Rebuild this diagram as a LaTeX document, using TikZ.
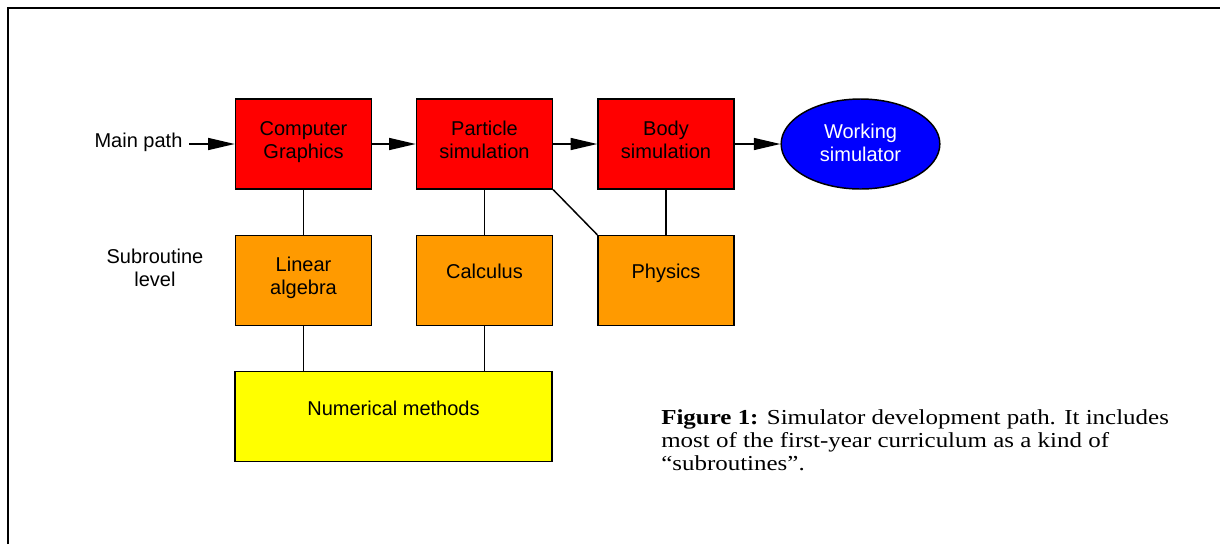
\documentclass[tikz,border=0pt]{standalone}
\usepackage{fontspec}
\setmainfont{Liberation Serif}
\newfontfamily\arialfont{Liberation Sans}
\newfontfamily\capfont[FakeStretch=1.17,Ligatures=TeX]{Liberation Serif}
\usetikzlibrary{arrows.meta,shapes.geometric}
\definecolor{boxred}{HTML}{FF0000}
\definecolor{boxorange}{HTML}{FF9A00}
\definecolor{boxyellow}{HTML}{FFFF00}
\definecolor{boxblue}{HTML}{0000FF}
\tikzset{
  base/.style={draw=black, line width=1.1pt, inner sep=0pt},
  redbox/.style={base, fill=boxred, minimum width=102pt, minimum height=67.5pt},
  orangebox/.style={base, fill=boxorange, minimum width=102pt, minimum height=67.5pt},
  yellowbox/.style={base, fill=boxyellow, minimum width=237.5pt, minimum height=67.5pt},
  bluebox/.style={base, ellipse, fill=boxblue, minimum width=119pt, minimum height=67.5pt},
  txt/.style={font=\arialfont\fontsize{15}{17.25}\selectfont, align=center, inner sep=0pt},
  conn/.style={line width=1.1pt},
  arr/.style={line width=1.1pt, -{Triangle[length=20pt,width=9pt]}},
}
\begin{document}
\begin{tikzpicture}[x=0.75pt,y=-0.75pt]
\useasboundingbox (0,0) rectangle (1220,544);
\coordinate (fbl) at (8,544);
\coordinate (ftl) at (8,8);
\coordinate (ftr) at (1220,8);
\draw[line width=1.2pt] (fbl) -- (ftl) -- (ftr);

% main row
\node[redbox] (cg) at (303.5,144) {};
\node[redbox] (ps) at (484.5,144) {};
\node[redbox] (bs) at (666,144) {};
\node[bluebox] (ws) at (860.5,144) {};
% subroutine row
\node[orangebox] (la) at (303.5,280.5) {};
\node[orangebox] (ca) at (484.5,280.5) {};
\node[orangebox] (ph) at (666,280.5) {};
\node[yellowbox] (nm) at (393.5,416.5) {};

% texts
\node[txt] (cgt) at (303.5,142.5) {Computer\\Graphics};
\node[txt] (pst) at (484.5,139.5) {Particle\\simulation};
\node[txt] (bst) at (666,139.5) {Body\\simulation};
\node[txt, text=white] (wst) at (860.5,142.5) {Working\\simulator};
\node[txt] (lat) at (303.5,277.5) {Linear\\algebra};
\node[txt] (cat) at (484.5,271) {Calculus};
\node[txt] (pht) at (666,273) {Physics};
\node[txt] (nmt) at (393.5,408) {Numerical methods};

\node[txt, inner sep=5pt] (mp) at (138.5,142) {Main path};
\node[txt] (sl) at (155,267.5) {Subroutine\\level};

% arrows
\draw[arr] (mp.east |- cg.west) -- (cg.west);
\draw[arr] (cg.east) -- (ps.west);
\draw[arr] (ps.east) -- (bs.west);
\draw[arr] (bs.east) -- (ws.west);

% connectors
\draw[conn] (cg.south) -- (la.north);
\draw[conn] (ps.south) -- (ca.north);
\draw[conn] (bs.south) -- (ph.north);
\draw[conn] (ps.south east) -- (ph.north west);
\draw[conn] (la.south) -- (la.south |- nm.north);
\draw[conn] (ca.south) -- (ca.south |- nm.north);

% caption
\node[anchor=west, align=left, inner sep=0pt, font=\capfont\fontsize{16}{17.25}\selectfont] (cap) at (661,440)
  {\textbf{Figure 1:} Simulator development path. It includes\\most of the first-year curriculum as a kind of\\“subroutines”.};
\end{tikzpicture}
\end{document}
